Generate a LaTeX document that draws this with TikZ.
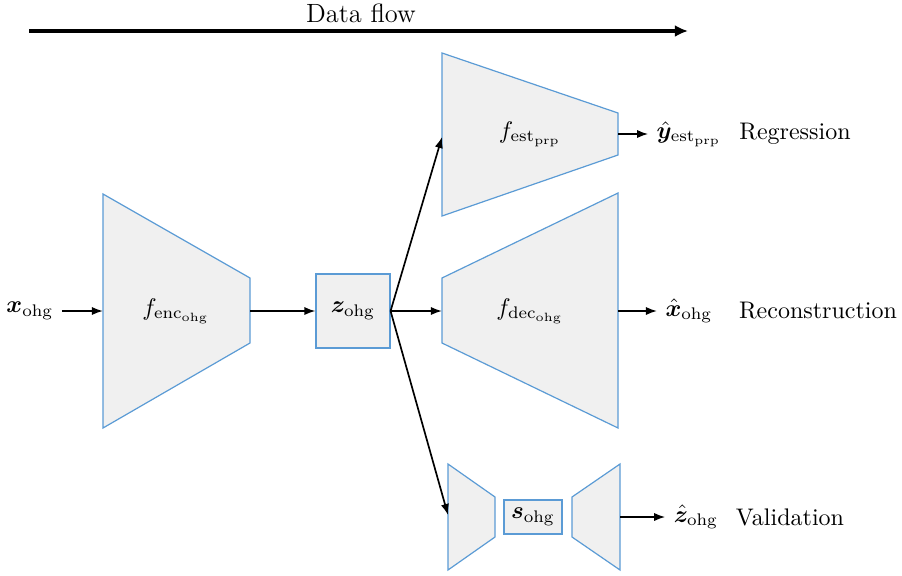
\documentclass[tikz,border=0pt]{standalone}
\usepackage{bm}
\usetikzlibrary{arrows.meta}
\definecolor{boxfill}{HTML}{F0F0F0}
\definecolor{boxline}{HTML}{5B9BD5}
\newcommand{\ohg}{\mathrm{ohg}}
\begin{document}
\begin{tikzpicture}[x=0.4167pt,y=-0.4167pt,
  blk/.style={fill=boxfill,draw=boxline,line width=0.5pt,line join=miter},
  sq/.style={fill=boxfill,draw=boxline,line width=0.5pt,inner sep=0,minimum width=#1},
  conn/.style={-{Latex[length=4.6pt,width=3.4pt]},line width=0.7pt},
  lbl/.style={inner sep=0pt}]
\useasboundingbox (0,0) rectangle (902,575);
% data flow
\coordinate (dfA) at (29,31);
\coordinate (dfB) at (688,31);
\draw[-{Latex[length=5.5pt,width=5pt]},line width=1.4pt] (dfA) -- (dfB);
\node[lbl,font=\fontsize{11}{13}\selectfont] (df) at (361,13) {Data flow};
% encoder
\draw[blk] (103,194) -- (250,278) -- (250,343) -- (103,428) -- cycle;
\coordinate (encL) at (103,311);
\coordinate (encR) at (250,311);
\node[lbl] (fenc) at (176,311) {$f_{\mathrm{enc}_{\ohg}}$};
\node (xin) at (30,311) {$\bm{x}_{\ohg}$};
\draw[conn] (xin) -- (encL);
% latent
\node[sq=30.8pt,minimum height=30.8pt] (z) at (353,311) {$\bm{z}_{\ohg}$};
\draw[conn] (encR) -- (z);
% estimator
\draw[blk] (442,53) -- (618,113) -- (618,155) -- (442,216) -- cycle;
\coordinate (estL) at (442,137);
\coordinate (estR) at (618,134);
\node[lbl] (fest) at (530,134) {$f_{\mathrm{est}_{\mathrm{prp}}}$};
\node (yhat) at (689,134) {$\hat{\bm{y}}_{\mathrm{est}_{\mathrm{prp}}}$};
\node[lbl] (reg) at (795,134) {Regression};
\draw[conn] (estR) -- (yhat);
% decoder
\draw[blk] (442,278) -- (618,193) -- (618,428) -- (442,343) -- cycle;
\coordinate (decL) at (442,311);
\coordinate (decR) at (618,311);
\node[lbl] (fdec) at (530,311) {$f_{\mathrm{dec}_{\ohg}}$};
\node (xhat) at (689,311) {$\hat{\bm{x}}_{\ohg}$};
\node[lbl] (rec) at (818,311) {Reconstruction};
\draw[conn] (decR) -- (xhat);
% validation
\draw[blk] (448,464) -- (495,497) -- (495,537) -- (448,570) -- cycle;
\draw[blk] (572,497) -- (620,464) -- (620,570) -- (572,537) -- cycle;
\node[sq=24.2pt,minimum height=14.2pt] (s) at (533,517) {$\bm{s}_{\ohg}$};
\coordinate (valL) at (448,515);
\coordinate (valR) at (620,517);
\node (zhat) at (696,517) {$\hat{\bm{z}}_{\ohg}$};
\node[lbl] (val) at (790,517) {Validation};
\draw[conn] (valR) -- (zhat);
% branches
\draw[conn] (z.east) -- (estL);
\draw[conn] (z.east) -- (decL);
\draw[conn] (z.east) -- (valL);
\end{tikzpicture}
\end{document}
